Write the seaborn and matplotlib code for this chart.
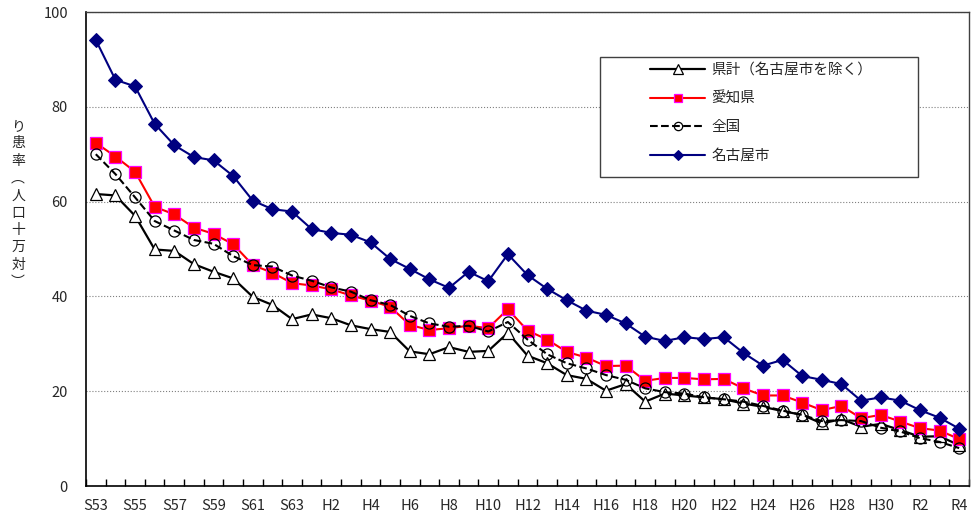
import matplotlib
matplotlib.use("Agg")
import matplotlib.pyplot as plt
import matplotlib.patches as patches
import seaborn as sns
import numpy as np

# 年次（S53〜R4）
years = (["S%d" % y for y in range(53, 64)]
         + ["H%d" % y for y in range(1, 31)]
         + ["R%d" % y for y in range(1, 5)])

# 県計（名古屋市を除く）
kenkei = [61.6, 61.3, 57.0, 49.9, 49.6, 46.8, 45.2, 43.8, 39.9, 38.2,
          35.2, 36.2, 35.4, 33.9, 33.1, 32.5, 28.4, 27.8, 29.3, 28.3,
          28.5, 32.3, 27.5, 25.9, 23.4, 22.6, 20.1, 21.5, 17.8, 19.5,
          19.1, 18.7, 18.3, 17.4, 16.7, 15.8, 15.0, 13.2, 14.1, 12.5,
          13.1, 11.8, 10.4, 10.5, 8.6]
# 愛知県
aichi = [72.4, 69.5, 66.3, 58.9, 57.3, 54.5, 53.2, 51.0, 46.6, 45.0,
         42.8, 42.3, 41.5, 40.2, 39.1, 37.8, 34.0, 32.9, 33.3, 33.8,
         33.3, 37.3, 32.8, 30.9, 28.3, 27.1, 25.3, 25.4, 22.2, 22.8,
         22.8, 22.5, 22.6, 20.6, 19.1, 19.1, 17.6, 16.0, 16.9, 14.3,
         15.0, 13.6, 12.2, 11.7, 9.9]
# 全国
zenkoku = [70.0, 65.8, 60.9, 55.9, 53.9, 51.9, 51.1, 48.5, 46.6, 46.3,
           44.4, 43.3, 41.9, 41.0, 39.2, 38.2, 35.9, 34.3, 33.6, 33.8,
           32.6, 34.6, 30.9, 27.8, 25.9, 24.8, 23.4, 22.4, 20.6, 19.8,
           19.5, 18.7, 18.3, 17.8, 16.9, 15.9, 15.0, 13.7, 13.9, 13.7,
           12.3, 11.5, 10.1, 9.3, 8.0]
# 名古屋市
nagoya = [94.1, 85.7, 84.3, 76.4, 71.9, 69.4, 68.7, 65.4, 60.2, 58.4,
          57.9, 54.2, 53.4, 53.0, 51.4, 47.9, 45.8, 43.6, 41.8, 45.2,
          43.2, 48.9, 44.5, 41.6, 39.2, 37.0, 36.1, 34.3, 31.5, 30.6,
          31.4, 31.0, 31.4, 28.1, 25.4, 26.6, 23.2, 22.4, 21.5, 18.0,
          18.7, 18.0, 16.0, 14.4, 12.1]

sns.set_style("white")
plt.rcParams['font.family'] = ['Noto Sans CJK JP', 'DejaVu Sans']

fig = plt.figure(figsize=(9.71, 5.18), dpi=100)
ax = fig.add_axes([86 / 971, 32 / 518, 883 / 971, 474 / 518])

x = np.arange(len(years))
sns.lineplot(x=x, y=kenkei, ax=ax, label="県計（名古屋市を除く）", color='black',
             linewidth=1.6, marker='^', markersize=9, markerfacecolor='white',
             markeredgecolor='black', markeredgewidth=0.9)
sns.lineplot(x=x, y=aichi, ax=ax, label="愛知県", color='red',
             linewidth=1.5, marker='s', markersize=8, markerfacecolor='red',
             markeredgecolor='#FF00FF', markeredgewidth=0.9)
sns.lineplot(x=x, y=zenkoku, ax=ax, label="全国", color='black',
             linewidth=1.5, linestyle='--', marker='o', markersize=8,
             markerfacecolor='none', markeredgecolor='black', markeredgewidth=0.9)
sns.lineplot(x=x, y=nagoya, ax=ax, label="名古屋市", color='#000080',
             linewidth=1.5, marker='D', markersize=7, markerfacecolor='#000080',
             markeredgecolor='#000080')

ax.set_xlim(-0.5, len(years) - 0.5)
ax.set_ylim(0, 100)
ax.set_yticks([0, 20, 40, 60, 80, 100])
ax.set_xticks(x[::2])
ax.set_xticklabels(years[::2])
ax.set_xticks(np.arange(len(years) + 1) - 0.5, minor=True)
ax.tick_params(axis='x', which='major', length=0, pad=9, labelsize=10.5)
ax.tick_params(axis='x', which='minor', direction='in', length=5, width=1, color='black', bottom=True)
ax.tick_params(axis='y', length=0, pad=13, labelsize=10.5)
ax.yaxis.grid(True, linestyle=':', color='#808080', linewidth=0.8)
ax.set_axisbelow(True)
ax.set_xlabel("")
ax.set_ylabel("")

for side in ['left', 'bottom']:
    ax.spines[side].set_color('black')
    ax.spines[side].set_linewidth(1.2)
for side in ['top', 'right']:
    ax.spines[side].set_color('#404040')
    ax.spines[side].set_linewidth(1.0)

# 縦書きの軸ラベル
fig.text(18 / 971, 1 - 204 / 518, "\n".join("り患率︵人口十万対︶"),
         ha='center', va='center', fontsize=10, linespacing=1.3)

handles, labels = ax.get_legend_handles_labels()
ax.get_legend().remove()
frame = patches.Rectangle((600 / 971, 1 - 177 / 518), 318 / 971, 120 / 518,
                          transform=fig.transFigure, facecolor='white',
                          edgecolor='#404040', linewidth=1.0, zorder=4)
fig.patches.append(frame)
fig.legend(handles, labels, loc='upper left', bbox_to_anchor=(650 / 971, 1 - 63 / 518),
           bbox_transform=fig.transFigure, frameon=False, borderpad=0, borderaxespad=0,
           handlelength=3.8, handletextpad=0.4, labelspacing=1.0, fontsize=10.5,
           markerscale=0.75)

fig.savefig("out.png", dpi=100)
